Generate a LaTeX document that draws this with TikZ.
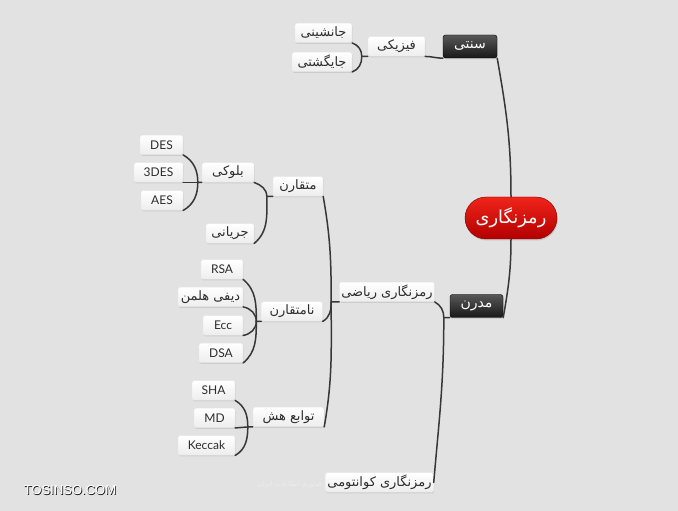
\documentclass[tikz,border=0pt]{standalone}
\usepackage{fontspec}
\setmainfont{Lato}
\newfontfamily\persianfont[Script=Arabic,Scale=1.08]{DejaVu Sans}
\newfontfamily\sitefont{Liberation Sans}
\TeXXeTstate=1
\newcommand{\fa}[1]{{\persianfont\beginR #1\endR}}
\usepackage{xcolor}
\usepackage{tikz}
\usetikzlibrary{positioning,shadows}

\definecolor{bgGray}{RGB}{226,226,226}
\definecolor{lineGray}{RGB}{55,55,55}
\definecolor{rootTop}{RGB}{240,36,26}
\definecolor{rootMid}{RGB}{205,8,6}
\definecolor{rootBottom}{RGB}{178,0,0}
\definecolor{darkTop}{RGB}{88,88,88}
\definecolor{darkBottom}{RGB}{24,24,24}
\definecolor{leafText}{RGB}{45,45,45}

\begin{document}
\begin{tikzpicture}[x=1pt, y=1pt,
		leaf/.style={rectangle, rounded corners=1.5pt, draw=black!10, top color=white, bottom color=black!7, text=leafText, font=\fontsize{12}{14}\selectfont, minimum height=19.5pt, inner sep=2pt, drop shadow={opacity=0.22, shadow xshift=0.6pt, shadow yshift=-1.2pt}},
		dark/.style={rectangle, rounded corners=2.5pt, draw=black, top color=darkTop, bottom color=darkBottom, text=white, font=\fontsize{13}{15}\selectfont, minimum height=23pt, inner sep=2pt, drop shadow={opacity=0.3, shadow xshift=0.6pt, shadow yshift=-1.2pt}},
		root/.style={rectangle, rounded corners=21pt, draw=rootBottom!70!black, top color=rootTop, middle color=rootMid, bottom color=rootBottom, text=white, font=\fontsize{16.5}{18}\selectfont, minimum height=42pt, minimum width=92pt, drop shadow={opacity=0.3, shadow xshift=0.8pt, shadow yshift=-1.5pt}},
		branch/.style={draw=lineGray, line width=1.5pt, line cap=round}
	]
	%Background
	\fill[bgGray] (0, 0) rectangle (678, 511);
	\useasboundingbox (0, 0) rectangle (678, 511);
	
	%Root
	\node[root] (root) at (511, 293) {\fa{رمزنگاری}};
	
	%Level 1
	\node[dark, minimum width=54pt] (senti) at (470, 464.5) {\fa{سنتی}};
	\node[dark, minimum width=53pt] (modern) at (476.5, 205) {\fa{مدرن}};
	
	%Level 2
	\node[leaf, minimum width=57pt] (phys) at (396.5, 464.5) {\fa{فیزیکی}};
	\node[leaf, minimum width=90pt] (riazi) at (387, 219) {\fa{رمزنگاری ریاضی}};
	\node[leaf, minimum width=108pt] (quantum) at (379.5, 28.5) {\fa{رمزنگاری کوانتومی}};
	
	%Level 3
	\node[leaf, minimum width=57pt] (jan) at (323.5, 478) {\fa{جانشینی}};
	\node[leaf, minimum width=60pt] (jay) at (322, 449) {\fa{جایگشتی}};
	\node[leaf, minimum width=50pt] (sym) at (298, 324.5) {\fa{متقارن}};
	\node[leaf, minimum width=61pt] (asym) at (292, 199.5) {\fa{نامتقارن}};
	\node[leaf, minimum width=71pt] (hash) at (288.5, 94) {\fa{توابع هش}};
	
	%Level 4
	\node[leaf, minimum width=52pt] (block) at (228, 338.5) {\fa{بلوکی}};
	\node[leaf, minimum width=48pt] (stream) at (230, 277.5) {\fa{جریانی}};
	\node[leaf, minimum width=42pt] (rsa) at (222, 241.5) {RSA};
	\node[leaf, minimum width=65pt] (dh) at (210.5, 214) {\fa{دیفی هلمن}};
	\node[leaf, minimum width=40pt] (ecc) at (223, 185.5) {Ecc};
	\node[leaf, minimum width=44pt] (dsa) at (221, 158) {DSA};
	\node[leaf, minimum width=43pt] (sha) at (213.5, 120.5) {SHA};
	\node[leaf, minimum width=41pt] (md) at (214.5, 93) {MD};
	\node[leaf, minimum width=57pt] (keccak) at (206.5, 65.5) {Keccak};
	
	%Level 5
	\node[leaf, minimum width=43pt] (des) at (161.5, 366) {DES};
	\node[leaf, minimum width=49pt] (tdes) at (158.5, 338.5) {3DES};
	\node[leaf, minimum width=42pt] (aes) at (162, 310.5) {AES};
	
	%Junctions
	\coordinate[left=6pt of phys.south west] (jPhys);
	\coordinate[left=4pt of block.south west] (jBlock);
	\coordinate[left=6pt of sym.south west] (jSym);
	\coordinate[left=5pt of asym.south west] (jAsym);
	\coordinate[left=5pt of hash.south west] (jHash);
	\coordinate[left=8pt of riazi.south west] (jRiazi);
	\coordinate[left=6pt of modern.south west] (jModern);
	
	%Lines
	\draw[branch] (root.north) to[out=90, in=-80] (senti.south east);
	\draw[branch] (root.south) to[out=-90, in=80] (modern.south east);
	\draw[branch] (senti.south west) to[out=180, in=0] (phys.south east);
	
	\draw[branch] (phys.south west) -- (jPhys) to[out=90, in=-20] (jan.south east);
	\draw[branch] (jPhys) to[out=-90, in=20] (jay.south east);
	
	\draw[branch] (modern.south west) -- (jModern) to[out=90, in=-30] (riazi.south east);
	\draw[branch] (jModern) to[out=-90, in=85] (quantum.east);
	
	\draw[branch] (riazi.south west) -- (jRiazi) to[out=90, in=-80] (sym.south east);
	\draw[branch] (jRiazi) to[out=-90, in=30] (asym.south east);
	\draw[branch] (jRiazi) to[out=-90, in=80] (hash.south east);
	
	\draw[branch] (sym.south west) -- (jSym) to[out=90, in=-20] (block.south east);
	\draw[branch] (jSym) to[out=-90, in=40] (stream.south east);
	
	\draw[branch] (block.south west) -- (jBlock) to[out=90, in=-30] (des.south east);
	\draw[branch] (jBlock) -- (tdes.south east);
	\draw[branch] (jBlock) to[out=-90, in=30] (aes.south east);
	
	\draw[branch] (asym.south west) -- (jAsym) to[out=90, in=-40] (rsa.south east);
	\draw[branch] (jAsym) to[out=90, in=-10] (dh.south east);
	\draw[branch] (jAsym) to[out=-90, in=10] (ecc.south east);
	\draw[branch] (jAsym) to[out=-90, in=40] (dsa.south east);
	
	\draw[branch] (hash.south west) -- (jHash) to[out=90, in=-30] (sha.south east);
	\draw[branch] (jHash) -- (md.south east);
	\draw[branch] (jHash) to[out=-90, in=30] (keccak.south east);
	
	%Watermarks
	\node[anchor=east, text=white!85!gray, font=\persianfont\fontsize{6.5}{8}\selectfont] (wmark) at (325, 26) {\beginR فناوری اطلاعات ایران\endR};
	\node[text=black!90, font=\sitefont\fontsize{13}{15}\selectfont] (siteShadow) at (70.8, 20.2) {TOSINSO.COM};
	\node[text=white, font=\sitefont\fontsize{13}{15}\selectfont] (site) at (70, 21) {TOSINSO.COM};
\end{tikzpicture}
\end{document}
